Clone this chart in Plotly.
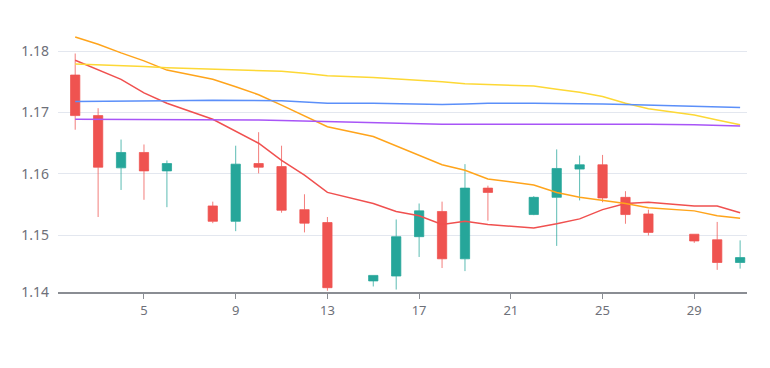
import plotly.graph_objects as go

days = [2, 3, 4, 5, 6, 8, 9, 10, 11, 12, 13, 15, 16, 17, 18, 19, 20, 22, 23, 24, 25, 26, 27, 29, 30, 31]
open_ = [1.1761, 1.1695, 1.1610, 1.1635, 1.1605, 1.1548, 1.1523, 1.1617, 1.1612, 1.1542, 1.1521, 1.1426, 1.1434,
         1.1498, 1.1539, 1.1462, 1.1577, 1.1534, 1.1562, 1.1608, 1.1615, 1.1562, 1.1535, 1.1502, 1.1493, 1.1456]
close = [1.1695, 1.1611, 1.1635, 1.1605, 1.1617, 1.1523, 1.1616, 1.1611, 1.1541, 1.1520, 1.1415, 1.1435, 1.1498,
         1.1540, 1.1462, 1.1577, 1.1570, 1.1562, 1.1609, 1.1615, 1.1561, 1.1534, 1.1505, 1.1491, 1.1456, 1.1464]
high = [1.1796, 1.1707, 1.1656, 1.1648, 1.1622, 1.1555, 1.1646, 1.1668, 1.1646, 1.1567, 1.1530, 1.1435, 1.1526,
        1.1552, 1.1555, 1.1616, 1.1581, 1.1564, 1.1640, 1.1630, 1.1631, 1.1572, 1.1542, 1.1502, 1.1522, 1.1492]
low = [1.1672, 1.1530, 1.1574, 1.1558, 1.1546, 1.1520, 1.1507, 1.1601, 1.1537, 1.1505, 1.1410, 1.1417, 1.1412,
       1.1465, 1.1447, 1.1442, 1.1524, 1.1533, 1.1483, 1.1557, 1.1554, 1.1519, 1.1500, 1.1488, 1.1444, 1.1446]

ma_red = [1.1785, 1.1770, 1.1754, 1.1732, 1.1715, 1.1689, 1.1670, 1.1650, 1.1622, 1.1598, 1.1570, 1.1552, 1.1539,
          1.1532, 1.1518, 1.1523, 1.1518, 1.1512, 1.1519, 1.1527, 1.1542, 1.1552, 1.1554, 1.1548, 1.1548, 1.1537]
ma_orange = [1.1823, 1.1811, 1.1797, 1.1784, 1.1769, 1.1754, 1.1742, 1.1729, 1.1712, 1.1695, 1.1677, 1.1661, 1.1646,
             1.1631, 1.1615, 1.1606, 1.1592, 1.1582, 1.1570, 1.1562, 1.1557, 1.1552, 1.1545, 1.1540, 1.1532, 1.1528]
ma_yellow = [1.1779, 1.1778, 1.1776, 1.1775, 1.1773, 1.1771, 1.1770, 1.1769, 1.1767, 1.1764, 1.1760, 1.1757, 1.1755,
             1.1753, 1.1750, 1.1747, 1.1746, 1.1743, 1.1738, 1.1733, 1.1726, 1.1715, 1.1706, 1.1696, 1.1688, 1.1680]
ma_blue = [1.1718, 1.1718, 1.1719, 1.1719, 1.1719, 1.1720, 1.1720, 1.1720, 1.1719, 1.1717, 1.1715, 1.1715, 1.1714,
           1.1714, 1.1713, 1.1714, 1.1715, 1.1715, 1.1715, 1.1715, 1.1714, 1.1713, 1.1712, 1.1711, 1.1710, 1.1708]
ma_purple = [1.1689, 1.1689, 1.1689, 1.1689, 1.1689, 1.1688, 1.1688, 1.1688, 1.1687, 1.1686, 1.1685, 1.1684, 1.1683,
             1.1681, 1.1681, 1.1681, 1.1681, 1.1682, 1.1682, 1.1682, 1.1682, 1.1682, 1.1681, 1.1680, 1.1679, 1.1678]

y_min, y_max = 1.1408, 1.18245
y_tickvals = [1.1408, 1.15, 1.16, 1.17, 1.18, 1.1823]
y_ticktext = ["1.14", "1.15", "1.16", "1.17", "1.18", ""]

UP = "#26a69a"
DOWN = "#ef5350"

fig = go.Figure()
fig.add_trace(go.Candlestick(
    x=days, open=open_, high=high, low=low, close=close,
    increasing=dict(line=dict(color="rgba(38,166,154,0.75)", width=1), fillcolor=UP),
    decreasing=dict(line=dict(color="rgba(239,83,80,0.75)", width=1), fillcolor=DOWN),
    whiskerwidth=0, showlegend=False,
))
for vals, col in [(ma_red, "#f0504f"), (ma_orange, "#ffa41b"), (ma_yellow, "#fdd835"),
                  (ma_blue, "#5b8ff9"), (ma_purple, "#a855f7")]:
    fig.add_trace(go.Scatter(x=days, y=vals, mode="lines", line=dict(color=col, width=1.5),
                             showlegend=False, hoverinfo="skip"))

fig.update_layout(
    width=770, height=368,
    margin=dict(l=58, r=23, t=36, b=76),
    paper_bgcolor="white", plot_bgcolor="white",
    boxgap=0.42,
    font=dict(family="Noto Sans, sans-serif", color="#6e7079"),
    xaxis=dict(range=[1.25, 31.3], tick0=1, dtick=4, showgrid=False, zeroline=False,
               showline=True, linecolor="#8a8d93", linewidth=2,
               ticks="outside", ticklen=5, tickcolor="#8a8d93", tickfont=dict(size=13),
               rangeslider=dict(visible=False)),
    yaxis=dict(range=[y_min, y_max], tickmode="array", tickvals=y_tickvals, ticktext=y_ticktext,
               showgrid=True, gridcolor="#e3e7ef", gridwidth=1, zeroline=False, showline=False,
               ticks="", tickfont=dict(size=14), ticklabelstandoff=8),
)

fig.write_html("out.html")
